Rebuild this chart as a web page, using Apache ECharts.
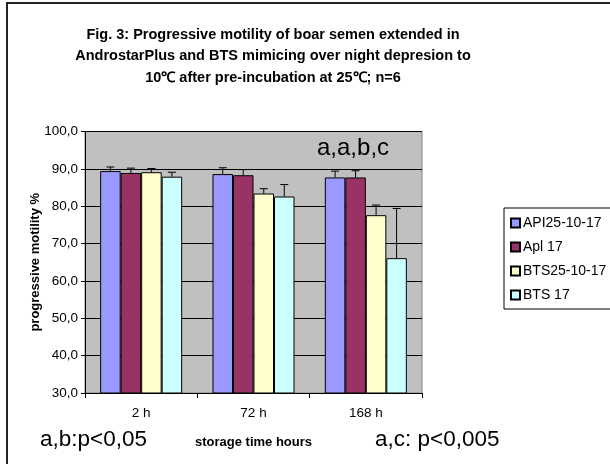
<!DOCTYPE html>
<html>
<head>
<meta charset="utf-8">
<script src="https://cdn.jsdelivr.net/npm/echarts@6/dist/echarts.min.js"></script>
<style>
  html, body { margin: 0; padding: 0; background: #fff; }
  #chart { width: 610px; height: 464px; }
</style>
</head>
<body>
<div id="chart"></div>
<script>
// storage time categories
var categories = ["2 h", "72 h", "168 h"];
var seriesNames = ["API25-10-17", "Apl 17", "BTS25-10-17", "BTS 17"];
// mean progressive motility (%) per series
var api25 = [89.4, 88.6, 87.7];
var apl17 = [88.9, 88.3, 87.7];
var bts25 = [89.1, 83.4, 77.6];
var bts17 = [87.9, 82.6, 66.1];
// upper error bar length (SD)
var api25Err = [1.1, 1.7, 1.7];
var apl17Err = [1.3, 1.5, 1.8];
var bts25Err = [1.0, 1.3, 2.7];
var bts17Err = [1.2, 3.2, 13.3];
var colors = ["#9999ff", "#993366", "#ffffcc", "#ccffff"];

var means = [api25, apl17, bts25, bts17];
var errs = [api25Err, apl17Err, bts25Err, bts17Err];
var gapPct = 27;
var font = "Liberation Sans, Arial, sans-serif";

var errData = [];
for (var s = 0; s < means.length; s++) {
  for (var c = 0; c < categories.length; c++) {
    errData.push([c, s, means[s][c], means[s][c] + errs[s][c]]);
  }
}

var chart = echarts.init(document.getElementById("chart"));

var series = seriesNames.map(function (name, i) {
  return {
    name: name,
    type: "bar",
    data: means[i],
    barGap: "0%",
    barCategoryGap: gapPct + "%",
    itemStyle: { color: colors[i], borderColor: "#000", borderWidth: 1 },
  };
});

// upper error bars
series.push({
  type: "custom",
  name: "err",
  data: errData,
  encode: { x: 0, y: 3 },
  z: 5,
  renderItem: function (params, api) {
    var cat = api.value(0);
    var s = api.value(1);
    var catW = api.size([1, 0])[0];
    var barW = (catW * (1 - gapPct / 100)) / 4;
    var base = api.coord([cat, api.value(2)]);
    var top = api.coord([cat, api.value(3)]);
    var x = base[0] + (s - 1.5) * barW;
    var style = { stroke: "#000", lineWidth: 1 };
    return {
      type: "group",
      children: [
        { type: "line", shape: { x1: x, y1: base[1], x2: x, y2: top[1] }, style: style },
        { type: "line", shape: { x1: x - 4, y1: top[1], x2: x + 4, y2: top[1] }, style: style },
      ],
    };
  },
});

chart.setOption({
  animation: false,
  textStyle: { fontFamily: font },
  title: {
    text: "Fig. 3: Progressive motility of boar semen extended in\nAndrostarPlus and BTS mimicing over night depresion to\n10\u2103 after pre-incubation at 25\u2103; n=6",
    left: 268,
    top: 19,
    textAlign: "center",
    textStyle: { fontSize: 14.5, fontWeight: "bold", color: "#000", lineHeight: 21.5 },
  },
  legend: {
    data: seriesNames,
    orient: "vertical",
    left: 504,
    top: 208,
    padding: [8, 30, 7, 6],
    itemGap: 10,
    itemWidth: 9,
    itemHeight: 9,
    borderColor: "#000",
    borderWidth: 1,
    icon: "rect",
    textStyle: { fontSize: 14, color: "#000", padding: [0, 0, 0, -2] },
  },
  grid: {
    left: 85,
    right: 188,
    top: 131.5,
    bottom: 71,
    show: true,
    backgroundColor: "#c0c0c0",
    borderColor: "#808080",
    borderWidth: 1,
  },
  xAxis: {
    type: "category",
    data: categories,
    name: "storage time hours",
    nameLocation: "middle",
    nameGap: 43,
    nameMoveOverlap: false,
    nameTextStyle: { fontSize: 13, fontWeight: "bold", color: "#000" },
    axisLine: { lineStyle: { color: "#000", width: 1 } },
    axisTick: { show: true, length: 5, lineStyle: { color: "#000" } },
    axisLabel: { fontSize: 13.5, color: "#000", margin: 13 },
  },
  yAxis: {
    type: "value",
    min: 30,
    max: 100,
    interval: 10,
    name: "progressive motility %",
    nameLocation: "middle",
    nameGap: 43,
    nameMoveOverlap: false,
    nameTextStyle: { fontSize: 13, fontWeight: "bold", color: "#000" },
    axisLine: { show: true, lineStyle: { color: "#000", width: 1 } },
    axisTick: { show: true, length: 4, lineStyle: { color: "#000" } },
    axisLabel: {
      fontSize: 13.5,
      color: "#000",
      margin: 7,
      formatter: function (v) { return v.toFixed(1).replace(".", ","); },
    },
    splitLine: { show: true, lineStyle: { color: "#000", width: 1 } },
  },
  graphic: [
    {
      type: "rect",
      shape: { x: 7, y: 3, width: 640, height: 520 },
      style: { fill: "none", stroke: "#222", lineWidth: 2 },
      silent: true,
    },
    {
      type: "text",
      left: 317,
      top: 136,
      style: { text: "a,a,b,c", fontSize: 24, fill: "#000", fontFamily: font },
      z: 10,
    },
    {
      type: "text",
      left: 40,
      top: 428,
      style: { text: "a,b:p<0,05", fontSize: 22.5, fill: "#000", fontFamily: font },
    },
    {
      type: "text",
      left: 375,
      top: 428,
      style: { text: "a,c: p<0,005", fontSize: 22.5, fill: "#000", fontFamily: font },
    },
  ],
  series: series,
});
</script>
</body>
</html>
